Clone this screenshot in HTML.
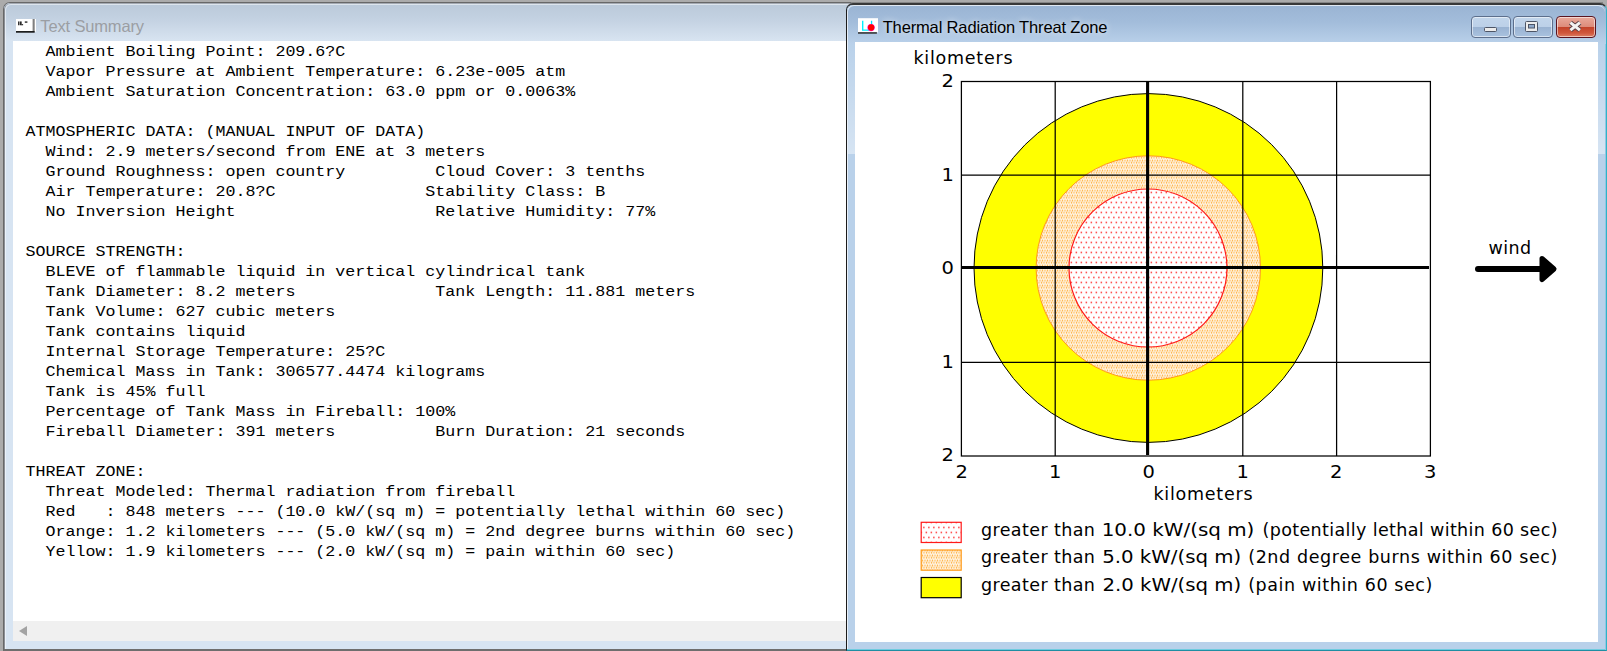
<!DOCTYPE html>
<html>
<head>
<meta charset="utf-8">
<title>Thermal Radiation Threat Zone</title>
<style>
html,body{margin:0;padding:0;}
body{width:1607px;height:651px;overflow:hidden;background:#ababab;position:relative;font-family:"Liberation Sans",sans-serif;}
.abs{position:absolute;}
/* ---------- left window (inactive) ---------- */
#lw{position:absolute;left:3px;top:2px;width:860px;height:649px;box-sizing:border-box;border:1px solid #686868;border-bottom:2px solid #6e6e6e;border-radius:7px 7px 0 0;background:#d7e4f2;overflow:hidden;}
#lw .hl{position:absolute;left:0;top:0;right:0;bottom:0;border-left:1px solid #8b8f96;border-top:1px solid #a3a9b2;border-radius:6px 6px 0 0;}
#lw .hl:after{content:"";position:absolute;left:0;top:0;right:0;bottom:0;border:1px solid rgba(255,255,255,.5);border-bottom:0;border-radius:6px 6px 0 0;}
#lw .tb{position:absolute;left:0;top:0;right:0;height:38px;background:linear-gradient(#bac9d9 0%,#c4d2e2 45%,#d8e4f1 100%);}
#lw .title{position:absolute;left:36.3px;top:13.2px;letter-spacing:-0.15px;font-size:16.5px;line-height:20px;color:#9b9ea3;white-space:nowrap;}
#lw .content{position:absolute;left:9px;top:38px;width:848px;height:580px;background:#fff;}
#lw .sb{position:absolute;left:9px;top:618px;width:848px;height:20px;background:#f0f0f0;}
#lw .sb i{position:absolute;left:6px;top:5px;width:0;height:0;border-top:5px solid transparent;border-bottom:5px solid transparent;border-right:8px solid #a3a3a3;}
#txt{position:absolute;left:2.5px;top:0.7px;margin:0;font-family:"Liberation Mono",monospace;font-size:16.667px;line-height:23px;color:#000;white-space:pre;transform-origin:0 0;transform:scaleY(.869565);letter-spacing:0;}
/* ---------- right window (active) ---------- */
#rw{position:absolute;left:846px;top:3px;width:761px;height:648px;box-sizing:border-box;border:1px solid #1c1c1c;border-top:2px solid #383838;border-right:1px solid #2fb4c8;border-bottom:1px solid #1f8ea3;border-radius:7px 7px 0 0;background:#b9d1ea;overflow:hidden;box-shadow:inset -1px 0 0 #93c6e2,inset 0 -1px 0 #6fcbdf;}
#rw .hl{position:absolute;left:0;top:0;right:1px;bottom:1px;border:1px solid rgba(255,255,255,.7);border-right:0;border-bottom:0;border-radius:7px 7px 0 0;}
#rw .tb{position:absolute;left:0;top:0;right:0;height:39px;background:linear-gradient(#9ab4d3 0%,#a3bddb 45%,#bad1ea 100%);}
#rw .title{position:absolute;left:35.7px;top:12.2px;letter-spacing:-0.15px;font-size:16.5px;line-height:20px;color:#000;white-space:nowrap;text-shadow:0 0 6px rgba(255,255,255,.9);}
#rw .content{position:absolute;left:8px;top:37px;width:743px;height:600px;background:#fff;}
.cb{position:absolute;top:11px;height:22px;width:40px;box-sizing:border-box;border:1px solid #5d6f8c;border-radius:4px;background:linear-gradient(#c2d5eb 0%,#bcd0e8 48%,#9ab3d2 52%,#a9c2df 100%);box-shadow:inset 0 0 0 1px rgba(255,255,255,.55);}
.cb.x{border-color:#5b1420;background:linear-gradient(#e9a99b 0%,#dd8c7b 48%,#c3432a 52%,#d0573c 80%,#dd8067 100%);}
</style>
</head>
<body>

<div id="lw">
  <div class="tb"></div>
  <div class="hl"></div>
  <svg class="abs" style="left:11.7px;top:15.9px" width="21" height="15.9" viewBox="0 0 21 15" preserveAspectRatio="none">
    <rect x="0" y="0" width="20" height="12" fill="#fff"/>
    <rect x="16.6" y="0" width="2.1" height="11.6" fill="#808080"/>
    <rect x="0" y="11.4" width="18.7" height="1.5" fill="#0c0c0c"/>
    <g fill="#111"><rect x="2.15" y="2.3" width="1.3" height="3.6"/><rect x="4.1" y="2.3" width="1.5" height="3.6"/><rect x="5.5" y="4.9" width="1.6" height="1"/><rect x="8.8" y="2.3" width="2.6" height="1.2"/></g>
  </svg>
  <div class="title">Text Summary</div>
  <div class="content">
<pre id="txt">   Ambient Boiling Point: 209.6?C
   Vapor Pressure at Ambient Temperature: 6.23e-005 atm
   Ambient Saturation Concentration: 63.0 ppm or 0.0063%

 ATMOSPHERIC DATA: (MANUAL INPUT OF DATA)
   Wind: 2.9 meters/second from ENE at 3 meters
   Ground Roughness: open country         Cloud Cover: 3 tenths
   Air Temperature: 20.8?C               Stability Class: B
   No Inversion Height                    Relative Humidity: 77%

 SOURCE STRENGTH:
   BLEVE of flammable liquid in vertical cylindrical tank
   Tank Diameter: 8.2 meters              Tank Length: 11.881 meters
   Tank Volume: 627 cubic meters
   Tank contains liquid
   Internal Storage Temperature: 25?C
   Chemical Mass in Tank: 306577.4474 kilograms
   Tank is 45% full
   Percentage of Tank Mass in Fireball: 100%
   Fireball Diameter: 391 meters          Burn Duration: 21 seconds

 THREAT ZONE:
   Threat Modeled: Thermal radiation from fireball
   Red   : 848 meters --- (10.0 kW/(sq m) = potentially lethal within 60 sec)
   Orange: 1.2 kilometers --- (5.0 kW/(sq m) = 2nd degree burns within 60 sec)
   Yellow: 1.9 kilometers --- (2.0 kW/(sq m) = pain within 60 sec)</pre>
  </div>
  <div class="sb"><i></i></div>
</div>

<div class="abs" style="left:851px;top:2px;width:752px;height:1px;background:#868686"></div>
<div id="rw">
  <div class="tb"></div>
  <div class="hl"></div>
  <svg class="abs" style="left:10px;top:13px" width="22" height="16" viewBox="0 0 22 16">
    <rect x="1" y="0.2" width="20" height="14.2" fill="#fff"/>
    <rect x="1" y="14.2" width="18.9" height="1.5" fill="#2b2b2b"/>
    <path d="M5.7 2.8 V12.15 H12" fill="none" stroke="#00f0ff" stroke-width="1.4"/>
    <path d="M14.55 2.8 V6.5" stroke="#00e0ff" stroke-width="1.3"/>
    <circle cx="14.05" cy="9.6" r="3.7" fill="#ff20e0"/>
    <circle cx="14.15" cy="9.5" r="3.15" fill="#ff0000"/>
  </svg>
  <div class="abs" style="left:1px;top:37px;width:7px;height:112px;background:linear-gradient(rgba(255,255,255,0),rgba(255,255,255,.42))"></div>
  <div class="abs" style="left:751px;top:37px;width:7px;height:112px;background:linear-gradient(rgba(255,255,255,0),rgba(255,255,255,.42))"></div>
  <div class="title">Thermal Radiation Threat Zone</div>
  <div class="cb" style="left:624px">
    <svg width="37" height="19" viewBox="0 0 37 19"><rect x="12.5" y="10.5" width="12" height="4" rx="1" fill="#ececec" stroke="#4d5566" stroke-width="1"/></svg>
  </div>
  <div class="cb" style="left:666px">
    <svg width="37" height="19" viewBox="0 0 37 19"><rect x="11.5" y="4.5" width="12" height="10" rx="1" fill="#ececec" stroke="#4d5566" stroke-width="1"/><rect x="14.5" y="7.5" width="6" height="3.5" fill="#8fa9cb" stroke="#4d5566" stroke-width="1"/></svg>
  </div>
  <div class="cb x" style="left:709px">
    <svg width="37" height="19" viewBox="0 0 37 19"><path d="M13.4 5.6 L22.9 13.2 M22.9 5.6 L13.4 13.2" stroke="#5a4248" stroke-width="4.8" stroke-linecap="butt"/><path d="M13.4 5.6 L22.9 13.2 M22.9 5.6 L13.4 13.2" stroke="#f4f4f4" stroke-width="3" stroke-linecap="butt"/></svg>
  </div>
  <div class="content">
    <svg class="abs" style="left:0;top:0" width="743" height="600" viewBox="855 42 743 600" font-family="'DejaVu Sans','Liberation Sans',sans-serif" font-size="17.5px" fill="#000">
      <defs>
        <pattern id="pr" x="0" y="1.2" width="5" height="10" patternUnits="userSpaceOnUse">
          <rect width="5" height="10" fill="#fff"/>
          <rect x="0.6" y="0.6" width="1.5" height="1.5" fill="#ff3b3b"/>
          <rect x="3.1" y="5.6" width="1.5" height="1.5" fill="#ff3b3b"/>
        </pattern>
        <pattern id="po" x="0" y="-0.5" width="5" height="5" patternUnits="userSpaceOnUse">
          <rect width="5" height="5" fill="#fff"/>
          <g fill="#ffa21a">
          <rect x="1.79" y="0.21" width="1.5" height="1.5"/>
          <rect x="0.71" y="2.52" width="1.5" height="1.5"/>
          <g opacity=".65"><rect x="-1" y="0.26" width="2.2" height="1.4"/><rect x="4" y="0.26" width="2.2" height="1.4"/><rect x="2.75" y="2.57" width="2.2" height="1.4"/></g>
          </g>
        </pattern>
      </defs>
      <!-- zones -->
      <circle cx="1148.4" cy="268" r="174.4" fill="#ffff00" stroke="#000" stroke-width="1"/>
      <circle cx="1148.3" cy="268" r="112.2" fill="url(#po)" stroke="#ff9a1a" stroke-width="1"/>
      <circle cx="1148" cy="268" r="79" fill="url(#pr)" stroke="#ff1a1a" stroke-width="1.2"/>
      <!-- grid -->
      <g stroke="#000" stroke-width="1.25" fill="none">
        <rect x="961.4" y="81.5" width="469" height="374.5"/>
        <path d="M1055.2 81.5V456 M1242.8 81.5V456 M1336.6 81.5V456 M961.4 175.1H1430.4 M961.4 362.4H1430.4"/>
      </g>
      <path d="M961.4 267.55H1429 M1147.6 81.5V455" stroke="#000" stroke-width="3.1" fill="none"/>
      <!-- labels -->
      <text x="913.5" y="64" textLength="99">kilometers</text>
      <text x="941.5" y="87" textLength="12.4" lengthAdjust="spacingAndGlyphs">2</text>
      <text x="941.5" y="180.5" textLength="12.4" lengthAdjust="spacingAndGlyphs">1</text>
      <text x="941.5" y="274" textLength="12.4" lengthAdjust="spacingAndGlyphs">0</text>
      <text x="941.5" y="367.5" textLength="12.4" lengthAdjust="spacingAndGlyphs">1</text>
      <text x="941.5" y="461" textLength="12.4" lengthAdjust="spacingAndGlyphs">2</text>
      <text x="955.5" y="478" textLength="12.4" lengthAdjust="spacingAndGlyphs">2</text>
      <text x="1049" y="478" textLength="12.4" lengthAdjust="spacingAndGlyphs">1</text>
      <text x="1142.5" y="478" textLength="12.4" lengthAdjust="spacingAndGlyphs">0</text>
      <text x="1236.5" y="478" textLength="12.4" lengthAdjust="spacingAndGlyphs">1</text>
      <text x="1330" y="478" textLength="12.4" lengthAdjust="spacingAndGlyphs">2</text>
      <text x="1424" y="478" textLength="12.4" lengthAdjust="spacingAndGlyphs">3</text>
      <text x="1153.5" y="500" textLength="99">kilometers</text>
      <text x="1488.5" y="254" textLength="42.5">wind</text>
      <!-- wind arrow -->
      <path d="M1478 269H1542" stroke="#000" stroke-width="6" stroke-linecap="round"/>
      <path d="M1542 258.5L1554 269L1542 279.5Z" fill="#000" stroke="#000" stroke-width="5" stroke-linejoin="round"/>
      <!-- legend -->
      <rect x="921.2" y="522.3" width="40" height="20.2" fill="url(#pr)" stroke="#ff1a1a" stroke-width="1.2"/>
      <rect x="921.2" y="550" width="40" height="20.2" fill="url(#po)" stroke="#ff9a1a" stroke-width="1.2"/>
      <rect x="921.2" y="577.5" width="40" height="20.2" fill="#ffff00" stroke="#000" stroke-width="1.2"/>
      <text x="981" y="535.5" textLength="113.9">greater than</text>
      <text x="1101.7" y="535.5" textLength="152.7" lengthAdjust="spacingAndGlyphs">10.0 kW/(sq m)</text>
      <text x="1262.5" y="535.5" textLength="295">(potentially lethal within 60 sec)</text>
      <text x="981" y="563" textLength="113.9">greater than</text>
      <text x="1102.2" y="563" textLength="139" lengthAdjust="spacingAndGlyphs">5.0 kW/(sq m)</text>
      <text x="1248.2" y="563" textLength="309.2">(2nd degree burns within 60 sec)</text>
      <text x="981" y="590.5" textLength="113.9">greater than</text>
      <text x="1102.4" y="590.5" textLength="138.8" lengthAdjust="spacingAndGlyphs">2.0 kW/(sq m)</text>
      <text x="1248.2" y="590.5" textLength="184.2">(pain within 60 sec)</text>
    </svg>
  </div>
</div>

</body>
</html>
